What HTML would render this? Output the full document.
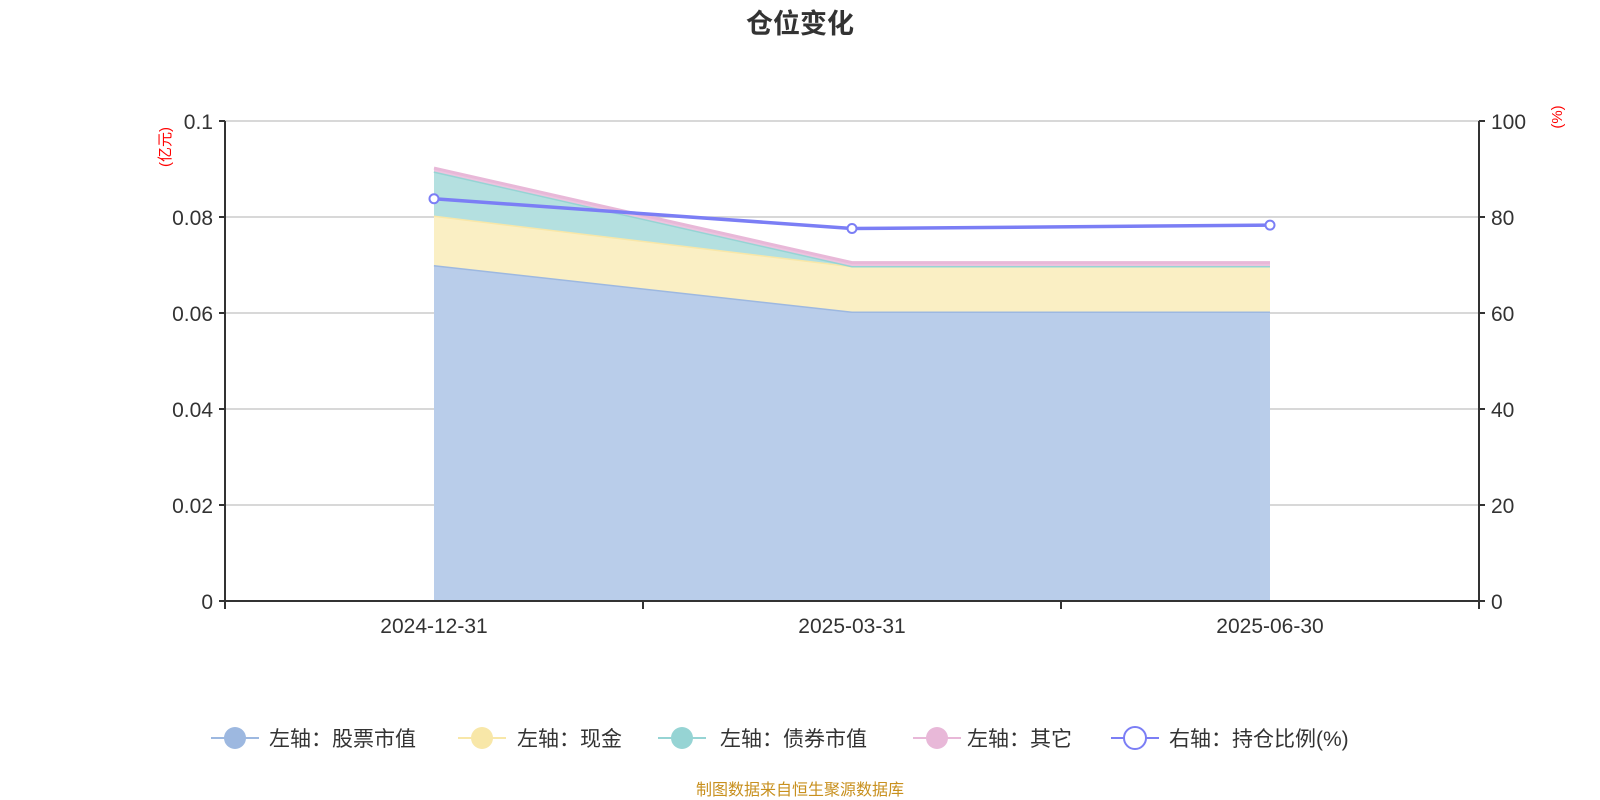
<!DOCTYPE html>
<html><head><meta charset="utf-8"><style>
body{margin:0;background:#fff;}
svg{display:block;font-family:"Liberation Sans","Noto Sans CJK SC",sans-serif;}
</style></head><body>
<svg id="chart" width="1600" height="800">
<text x="800" y="33" text-anchor="middle" font-size="27" font-weight="bold" fill="#333">仓位变化</text>
<text transform="translate(170,147) rotate(-90)" text-anchor="middle" font-size="15" fill="red">(亿元)</text>
<text transform="translate(1562,117) rotate(-90)" text-anchor="middle" font-size="15" fill="red">(%)</text>
<g id="grid"></g><g id="areas"></g><g id="axes"></g><g id="line"></g>
<g>
 <g><line x1="211" y1="738" x2="259" y2="738" stroke="#9db8e0" stroke-width="2"/><circle cx="235" cy="738" r="11" fill="#9db8e0"/><text x="269" y="746" font-size="21" fill="#333">左轴：股票市值</text></g>
 <g><line x1="458" y1="738" x2="506" y2="738" stroke="#f8e7a8" stroke-width="2"/><circle cx="482" cy="738" r="11" fill="#f8e7a8"/><text x="517" y="746" font-size="21" fill="#333">左轴：现金</text></g>
 <g><line x1="658" y1="738" x2="706" y2="738" stroke="#96d4d4" stroke-width="2"/><circle cx="682" cy="738" r="11" fill="#96d4d4"/><text x="720" y="746" font-size="21" fill="#333">左轴：债券市值</text></g>
 <g><line x1="913" y1="738" x2="961" y2="738" stroke="#e8b8d8" stroke-width="2"/><circle cx="937" cy="738" r="11" fill="#e8b8d8"/><text x="967" y="746" font-size="21" fill="#333">左轴：其它</text></g>
 <g><line x1="1111" y1="738" x2="1159" y2="738" stroke="#7b7ef5" stroke-width="2"/><circle cx="1135" cy="738" r="11" fill="#fff" stroke="#7b7ef5" stroke-width="2"/><text x="1169" y="746" font-size="21" fill="#333">右轴：持仓比例(%)</text></g>
</g>
<text x="800" y="795" text-anchor="middle" font-size="16" fill="#c8901e">制图数据来自恒生聚源数据库</text>
</svg>
<script>
const categories=["2024-12-31","2025-03-31","2025-06-30"];
const stock=[0.0700,0.0603,0.0603];
const cash=[0.0103,0.0095,0.0095];
const bond=[0.0092,0.0000,0.0000];
const other=[0.0007,0.0007,0.0007];
const ratio=[83.8,77.6,78.3];
const leftTicks=["0","0.02","0.04","0.06","0.08","0.1"];
const rightTicks=["0","20","40","60","80","100"];
const NS="http://www.w3.org/2000/svg";
const L=225,R=1479,T=121,B=601;
const bw=(R-L)/categories.length;
const xs=i=>L+bw*(i+0.5);
const yL=v=>B-(v/0.1)*(B-T);
const yR=v=>B-(v/100)*(B-T);
function mk(tag,attrs,parent,txt){const e=document.createElementNS(NS,tag);for(const k in attrs)e.setAttribute(k,attrs[k]);if(txt!==undefined)e.textContent=txt;parent.appendChild(e);return e;}
const grid=document.getElementById('grid'),axes=document.getElementById('axes'),areas=document.getElementById('areas'),lineG=document.getElementById('line');
leftTicks.forEach((t,i)=>{const y=yL(i*0.02);
 if(i>0){const g=mk('line',{x1:L,x2:R,y1:y,y2:y,stroke:'#ccc','stroke-width':1.5},grid);}
 mk('line',{x1:L-6,x2:L,y1:y,y2:y,stroke:'#333','stroke-width':2},axes);
 const tl=mk('text',{x:L-12,y:y+8,'text-anchor':'end','font-size':21,fill:'#333'},axes,t);
 
 mk('line',{x1:R,x2:R+6,y1:y,y2:y,stroke:'#333','stroke-width':2},axes);
 const tr=mk('text',{x:R+12,y:y+8,'font-size':21,fill:'#333'},axes,rightTicks[i]);
 
});
mk('line',{x1:L,x2:L,y1:T,y2:B,stroke:'#333','stroke-width':2},axes);
mk('line',{x1:R,x2:R,y1:T,y2:B,stroke:'#333','stroke-width':2},axes);
mk('line',{x1:L,x2:R,y1:B,y2:B,stroke:'#333','stroke-width':2},axes);
for(let i=0;i<=categories.length;i++){const x=L+bw*i;mk('line',{x1:x,x2:x,y1:B,y2:B+8,stroke:'#333','stroke-width':2},axes);}
categories.forEach((c,i)=>{const t=mk('text',{x:xs(i),y:B+32,'text-anchor':'middle','font-size':21,fill:'#333'},axes,c);});
const series=[[stock,'#b9cdea','#9db8e0','area-stock'],[cash,'#faefc4','#f8e7a8','area-cash'],[bond,'#b4e0e0','#96d4d4','area-bond'],[other,'#ecc4df','#e8b8d8','area-other']];
let base=[0,0,0];
series.forEach(([vals,fill,stroke,name])=>{
 const top=vals.map((v,i)=>base[i]+v);
 let d='';top.forEach((v,i)=>{d+=(i?'L':'M')+xs(i)+','+yL(v);});
 for(let i=base.length-1;i>=0;i--)d+='L'+xs(i)+','+yL(base[i]);d+='Z';
 const p=mk('path',{d:d,fill:fill},areas);
 
 const pl=mk('polyline',{points:top.map((v,i)=>xs(i)+','+yL(v)).join(' '),fill:'none',stroke:stroke,'stroke-width':3},areas);
 
 base=top;
});
const ln=mk('polyline',{points:ratio.map((v,i)=>xs(i)+','+yR(v)).join(' '),fill:'none',stroke:'#7b7ef5','stroke-width':3.5},lineG);

ratio.forEach((v,i)=>{const c=mk('circle',{cx:xs(i),cy:yR(v),r:4.5,fill:'#fff',stroke:'#7b7ef5','stroke-width':2},lineG);});
</script>
</body></html>
